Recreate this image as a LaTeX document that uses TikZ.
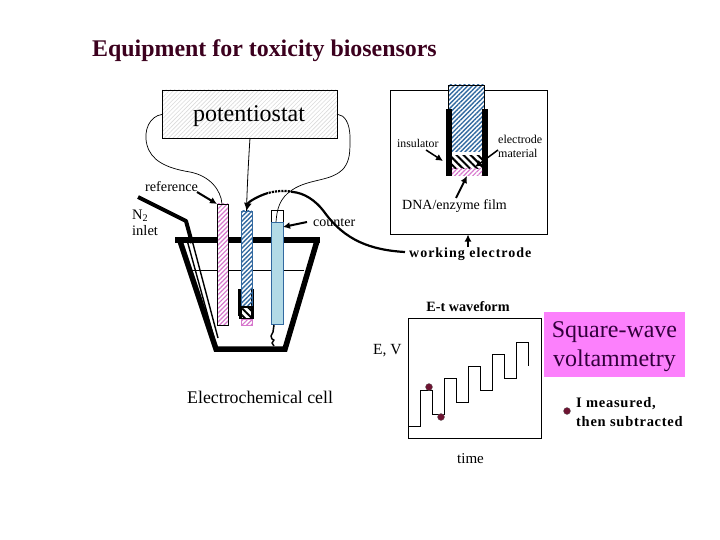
\documentclass[tikz,border=0pt]{standalone}
\usepackage{fontspec}
\setmainfont{Liberation Serif}
\usetikzlibrary{patterns.meta,arrows.meta}
\definecolor{hatchblue}{RGB}{50,105,160}
\definecolor{hatchpink}{RGB}{215,120,205}
\definecolor{lightblue}{RGB}{178,218,230}
\definecolor{pinkbox}{RGB}{252,128,252}
\definecolor{dotred}{RGB}{110,20,50}
\tikzset{
  lbl/.style={inner sep=0pt,font=\fontsize{#1}{#1}\selectfont,text=black,align=left},
  lbl/.default=13,
  plate/.style={draw=black,line width=0.9pt,inner sep=0pt},
  wire/.style={draw=black,line width=0.7pt},
  pointer/.style={draw=black,line width=2pt,-{Latex[length=7pt,width=7pt]}},
  bluehatch/.style={pattern={Lines[angle=45,distance=3.2pt,line width=1.4pt]},pattern color=hatchblue},
  pinkhatch/.style={pattern={Lines[angle=45,distance=3.2pt,line width=1.2pt]},pattern color=hatchpink},
  blackhatch/.style={pattern={Lines[angle=-45,distance=5pt,line width=2pt]},pattern color=black},
  greyhatch/.style={pattern={Lines[angle=45,distance=3pt,line width=0.6pt]},pattern color=black!14},
  mdot/.style={circle,fill=dotred,draw=black!60,line width=0.3pt,minimum size=7pt,inner sep=0pt},
  box/.style={minimum width=#1,inner sep=0pt,outer sep=0pt},
}
\begin{document}
\begin{tikzpicture}[x=1pt,y=-1pt]
\useasboundingbox[fill=white] (0,0) rectangle (720,540);
\node[lbl=23.9,anchor=west,font=\fontsize{23.9}{23.9}\selectfont\bfseries,text={rgb,255:red,60;green,0;blue,30}] (title) at (92,51) {Equipment for toxicity biosensors};
% potentiostat
\draw[greyhatch] (162,90) rectangle (337,138);
\node[plate,minimum width=175pt,minimum height=48pt,anchor=north west] (pot) at (162,90) {};
\node[lbl=24,anchor=center] (pottxt) at (249,116) {potentiostat};
% beaker
\draw[line width=5.5pt,line join=miter] (180,241) -- (216,349) -- (285,349) -- (317,241);
\draw[line width=1.4pt] (192,240) -- (218,338);
\draw[line width=1.4pt] (187,240) -- (214,338);
\draw[line width=0.7pt] (192,270) -- (304,270);
\draw[line width=6pt] (175,240) -- (320,240);
% N2 tube
\draw[line width=4pt,line join=round] (138,197) -- (186,221) -- (192,243);
% electrodes
\fill[white] (217,204) rectangle (228,325);
\node[box=11pt,minimum height=121pt,draw=black,line width=0.7pt,pinkhatch,anchor=north west] (refel) at (217,204) {};
\fill[white] (241,211) rectangle (252,307);
\fill[black] (238,289) rectangle (241,316);
\fill[black] (251,289) rectangle (254,316);
\node[box=11pt,minimum height=96pt,draw=hatchblue,line width=0.7pt,bluehatch,anchor=north west] (workel) at (241,211) {};
\fill[black] (239,306) rectangle (254,319);
\fill[white] (241,307) rectangle (251,318);
\draw[blackhatch] (241,307) rectangle (251,318);
\node[box=11pt,minimum height=6pt,draw=hatchpink,line width=0.5pt,pinkhatch,anchor=north west] (workfilm) at (241,319) {};
\node[box=12pt,minimum height=12pt,draw=black,line width=0.7pt,anchor=north west,fill=white] (countop) at (271,210) {};
\node[box=12pt,minimum height=102pt,draw=hatchblue,line width=0.8pt,fill=lightblue,anchor=north west] (countel) at (271,222) {};
\draw[line width=1.5pt,line join=round] (countel.south) ++(-3,1) -- ++(-1,7) -- ++(-2,4) -- ++(1,3) -- ++(2,1) -- ++(-2,3) -- ++(2,3);
% wires
\draw[wire] (pot.west) .. controls (150,116) and (143,130) .. (147,145) .. controls (151,160) and (165,168) .. (190,172) .. controls (210,176) and (221,190) .. (222,204);
\draw[wire,line width=0.8pt] (pot.south) .. controls (248.5,160) and (247,190) .. (workel.north);
\draw[wire] (pot.east) .. controls (344,115) and (350,122) .. (350,138) .. controls (350,152) and (350,160) .. (344,168) .. controls (332,182) and (310,178) .. (292,190) .. controls (280,198) and (277,208) .. (276,222);
% thick lead
\coordinate (wkend) at (405,252);
\draw[line width=2.2pt,densely dotted] (293,192) .. controls (285,190) and (276,191) .. (268,193);
\draw[line width=2.2pt,-{Latex[length=8pt,width=8pt]}] (268,193) .. controls (258,196) and (248,202) .. (workel.north);
\draw[line width=2.2pt] (wkend) .. controls (370,250) and (345,240) .. (325,213) .. controls (315,199) and (303,193) .. (293,192);
% labels and pointers
\node[lbl=14.2,anchor=west] (reflbl) at (145,186.5) {reference};
\draw[pointer] (197,192) -- (refel.north west);
\node[lbl=14.5,anchor=north west,align=left,font=\fontsize{14.5}{16}\selectfont] (n2) at (132,209.5) {N\textsubscript{2}\\inlet};
\node[lbl=14,anchor=west] (countlbl) at (313,222.5) {counter};
\draw[pointer] (307,222) -- (283,227);
% inset
\node[plate,minimum width=157pt,minimum height=144pt,anchor=north west] (inset) at (390,90) {};
\fill[white] (448,85) rectangle (484,152);
\node[box=36pt,minimum height=67pt,draw=black,line width=0.6pt,bluehatch,anchor=north west] (wtop) at (448,85) {};
\fill[black] (446,109) rectangle (452,176);
\fill[black] (482,109) rectangle (488,176);
\fill[white] (452,152) rectangle (482,169);
\draw[blackhatch,draw=none] (452,156) rectangle (482,169);
\node[box=30pt,minimum height=7pt,pinkhatch,anchor=north west] (film) at (452,169) {};
\node[lbl=11.8,anchor=west] (inslbl) at (397,143.5) {insulator};
\coordinate (insdot) at (443,161);
\draw[pointer,line width=1.5pt] (426,150) -- (insdot);
\node[lbl=12,anchor=north west,align=left,font=\fontsize{12}{14}\selectfont] (matlbl) at (498,135) {electrode\\material};
\coordinate (matdot) at (475,167);
\draw[pointer,line width=1.5pt] (498,150) -- (matdot);
\node[lbl=14,anchor=west] (dnalbl) at (402,206.5) {DNA/enzyme film};
\draw[pointer] (456,198) -- (film.south);
\node[lbl=14,anchor=west,font=\fontsize{14}{14}\selectfont\bfseries] (wklbl) at (409,254.5) {\addfontfeatures{LetterSpace=7}working electrode};
\draw[pointer] (468,247) -- (468,234.5);
% waveform
\node[lbl=14.2,anchor=center,font=\fontsize{14.2}{14.2}\selectfont\bfseries] (etlbl) at (468,306.5) {E-t waveform};
\node[plate,minimum width=133pt,minimum height=120pt,anchor=north west] (wave) at (408,318) {};
\draw[line width=0.9pt] (408.3,426.3) -| (420.7,390.3) -| (432.7,414.3) -| (444.7,378.3) -| (456.7,402.3) -| (468.7,366.3) -| (480.7,390.3) -| (492.7,354.3) -| (504.7,378.3) -| (516.7,342.3) -| (528.7,366.3);
\node[mdot] (d1) at (429,387) {};
\node[mdot] (d2) at (441,417) {};
\node[lbl=15.5,anchor=west] (evlbl) at (373,350.5) {E, V};
\node[lbl=15,anchor=center] (timelbl) at (470.5,458.5) {time};
\node[fill=pinkbox,minimum width=141pt,minimum height=65pt,inner sep=0pt,anchor=north west] (swbox) at (544,312) {};
\node[lbl=24,align=center,anchor=center,font=\fontsize{24}{29}\selectfont,text={rgb,255:red,50;green,0;blue,60}] (swlbl) at (614.5,347) {Square-wave\\voltammetry};
\node[mdot] (d3) at (567,411) {};
\node[lbl=14.5,anchor=north west,align=left,font=\fontsize{14.5}{19}\selectfont\bfseries] (imeas) at (576,397) {\addfontfeatures{LetterSpace=5}I measured,\\\addfontfeatures{LetterSpace=5}then subtracted};
\node[lbl=17.8,anchor=west] (ecell) at (187,397.5) {Electrochemical cell};
\end{tikzpicture}
\end{document}
